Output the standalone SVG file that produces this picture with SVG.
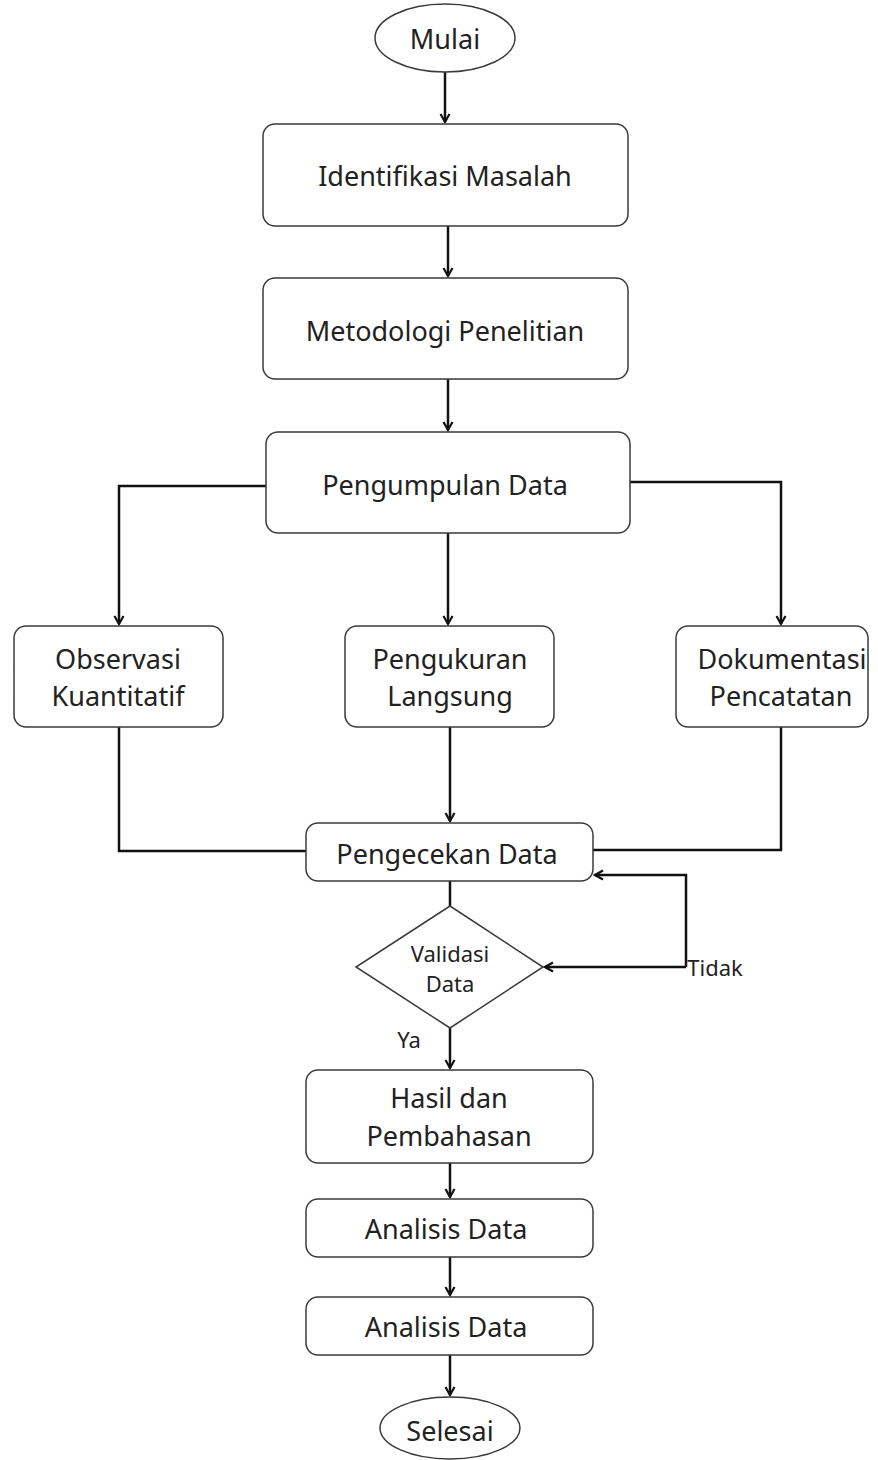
<svg xmlns="http://www.w3.org/2000/svg" width="878" height="1460" viewBox="0 0 878 1460">
<style>
.box{fill:#fff;stroke:#3a3a3a;stroke-width:1.5}
.t{font-family:"Noto Sans","Open Sans",sans-serif;font-size:27px;fill:#222;text-anchor:middle;dominant-baseline:central}
.s{font-size:22px}
.c{fill:none;stroke:#111;stroke-width:2.5}
</style>
<defs>
<marker id="ah" viewBox="0 0 12 12" refX="10" refY="6" markerWidth="12" markerHeight="12" markerUnits="userSpaceOnUse" orient="auto">
<path d="M2,1.5 L10,6 L2,10.5" fill="none" stroke="#111" stroke-width="2.2"/>
</marker>
</defs>
<rect width="878" height="1460" fill="#fff"/>
<g id="connectors">
<path class="c" d="M445,72 V122" marker-end="url(#ah)"/>
<path class="c" d="M448,226 V276" marker-end="url(#ah)"/>
<path class="c" d="M448,379 V430" marker-end="url(#ah)"/>
<path class="c" d="M266,486 H119 V624" marker-end="url(#ah)"/>
<path class="c" d="M448,533 V624" marker-end="url(#ah)"/>
<path class="c" d="M630,482 H781 V624" marker-end="url(#ah)"/>
<path class="c" d="M119,727 V851 H306"/>
<path class="c" d="M450,727 V821" marker-end="url(#ah)"/>
<path class="c" d="M781,727 V850 H593"/>
<path class="c" d="M450,881 V906"/>
<path class="c" d="M686,967 H545" marker-end="url(#ah)"/>
<path class="c" d="M686,967 V875 H595" marker-end="url(#ah)"/>
<path class="c" d="M450,1028 V1068" marker-end="url(#ah)"/>
<path class="c" d="M450,1163 V1197" marker-end="url(#ah)"/>
<path class="c" d="M450,1257 V1295" marker-end="url(#ah)"/>
<path class="c" d="M450,1355 V1395" marker-end="url(#ah)"/>
<text class="t s" x="715" y="967">Tidak</text>
<text class="t s" x="409" y="1039">Ya</text>
</g>
<g id="mulai"><ellipse class="box" cx="445" cy="38" rx="70" ry="34"/><text class="t" x="445" y="38">Mulai</text></g>
<g id="identifikasi"><rect class="box" x="263" y="124" width="365" height="102" rx="12"/><text class="t" x="445" y="175">Identifikasi Masalah</text></g>
<g id="metodologi"><rect class="box" x="263" y="278" width="365" height="101" rx="12"/><text class="t" x="445" y="330">Metodologi Penelitian</text></g>
<g id="pengumpulan"><rect class="box" x="266" y="432" width="364" height="101" rx="12"/><text class="t" x="445" y="484">Pengumpulan Data</text></g>
<g id="observasi"><rect class="box" x="14" y="626" width="209" height="101" rx="12"/><text class="t" x="118" y="658">Observasi</text><text class="t" x="118" y="695">Kuantitatif</text></g>
<g id="pengukuran"><rect class="box" x="345" y="626" width="209" height="101" rx="12"/><text class="t" x="450" y="658">Pengukuran</text><text class="t" x="450" y="695">Langsung</text></g>
<g id="dokumentasi"><rect class="box" x="676" y="626" width="192" height="101" rx="12"/><text class="t" x="782" y="658">Dokumentasi</text><text class="t" x="781" y="695">Pencatatan</text></g>
<g id="pengecekan"><rect class="box" x="306" y="823" width="287" height="58" rx="12"/><text class="t" x="447" y="853">Pengecekan Data</text></g>
<g id="validasi"><polygon class="box" points="450,906 543,967 450,1028 356,967"/><text class="t s" x="450" y="953">Validasi</text><text class="t s" x="450" y="983">Data</text></g>
<g id="hasil"><rect class="box" x="306" y="1070" width="287" height="93" rx="12"/><text class="t" x="449" y="1097">Hasil dan</text><text class="t" x="449" y="1135">Pembahasan</text></g>
<g id="analisis1"><rect class="box" x="306" y="1199" width="287" height="58" rx="12"/><text class="t" x="446" y="1228">Analisis Data</text></g>
<g id="analisis2"><rect class="box" x="306" y="1297" width="287" height="58" rx="12"/><text class="t" x="446" y="1326">Analisis Data</text></g>
<g id="selesai"><ellipse class="box" cx="450" cy="1428" rx="70" ry="31"/><text class="t" x="450" y="1430">Selesai</text></g>
</svg>
